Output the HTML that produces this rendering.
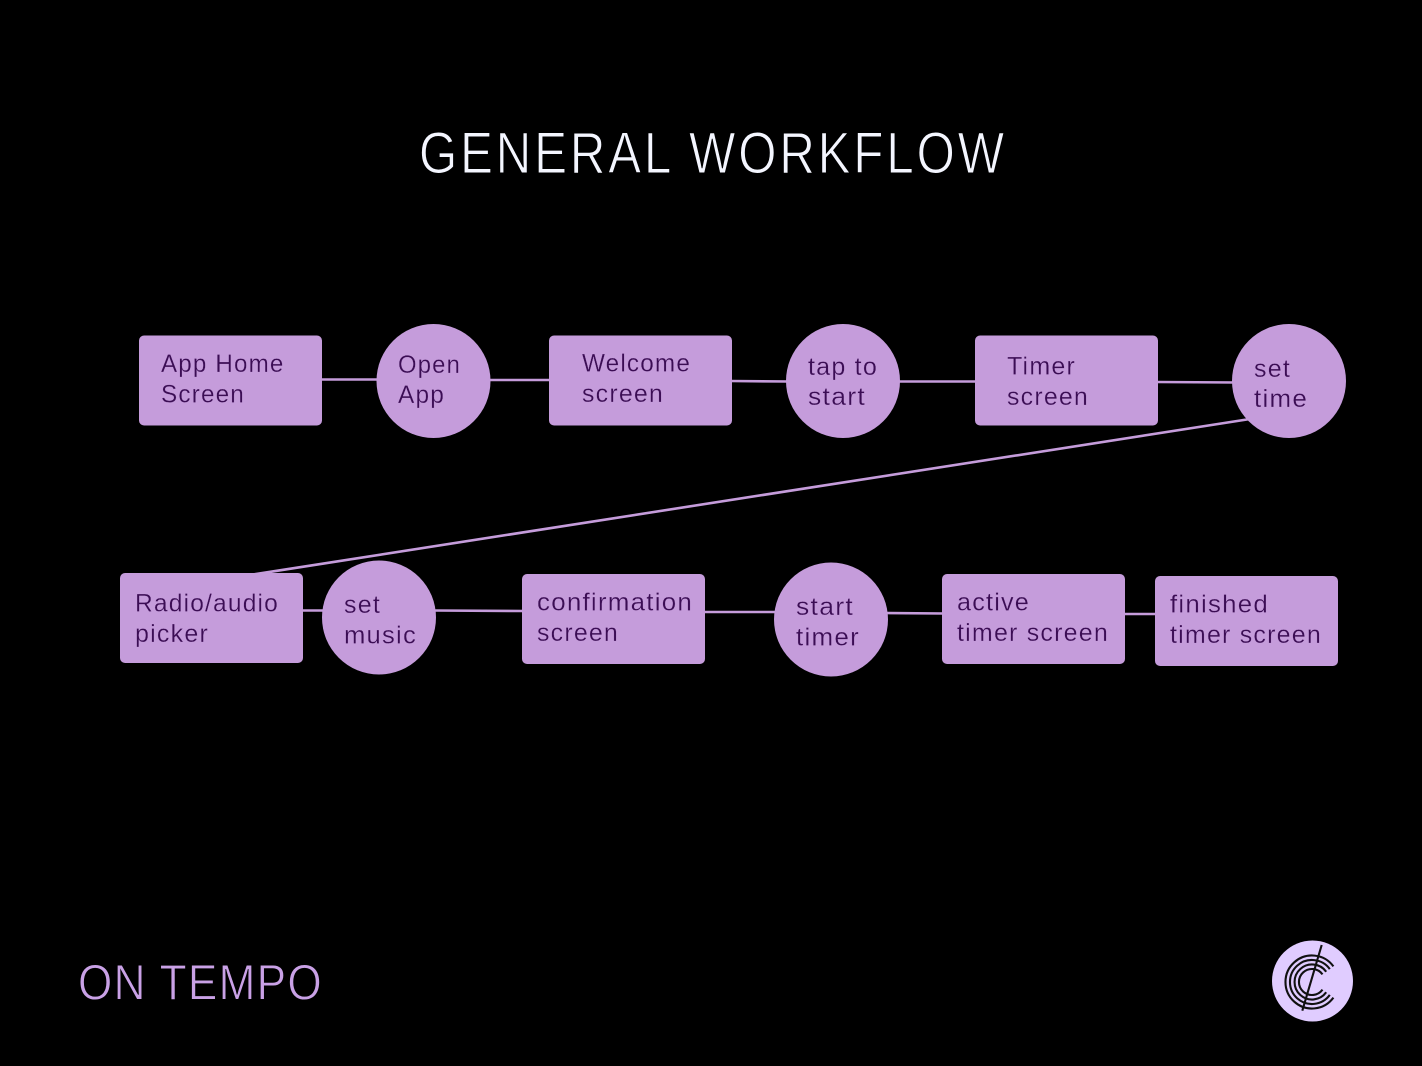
<!DOCTYPE html>
<html><head><meta charset="utf-8"><style>
html,body{margin:0;padding:0;background:#000;width:1422px;height:1066px;overflow:hidden}
svg{display:block}
text{font-family:"Liberation Sans",sans-serif}
.n text{font-size:25px;fill:#3b0d54;letter-spacing:1.2px;stroke:#c59cdb;stroke-width:.25px}
.t{font-size:58.3px;fill:#f4f6ff;letter-spacing:3.5px;stroke:#000;stroke-width:1px}
.o{font-size:50px;fill:#c9a1e6;letter-spacing:1.500px;stroke:#000;stroke-width:.9px}
</style></head><body>
<svg width="1422" height="1066" viewBox="0 0 1422 1066">
<rect width="1422" height="1066" fill="#000"/>
<text class="t" x="419" y="173.200" textLength="588" lengthAdjust="spacingAndGlyphs">GENERAL WORKFLOW</text>
<text class="o" x="78" y="999.500" textLength="245" lengthAdjust="spacingAndGlyphs">ON TEMPO</text>
<g stroke="#c59cdb" stroke-width="2.6" fill="none">
<line x1="320" y1="379.500" x2="380" y2="379.500"/>
<line x1="488" y1="380" x2="552" y2="380"/>
<line x1="730" y1="381" x2="790" y2="381.500"/>
<line x1="898" y1="381.500" x2="977" y2="381.500"/>
<line x1="1156" y1="382" x2="1236" y2="382.500"/>
<line x1="1250" y1="419" x2="250" y2="575"/>
<line x1="300" y1="610.500" x2="326" y2="610.500"/>
<line x1="434" y1="610.500" x2="525" y2="611"/>
<line x1="703" y1="612" x2="778" y2="612"/>
<line x1="886" y1="613" x2="944" y2="613.500"/>
<line x1="1123" y1="614" x2="1157" y2="614"/>
</g>
<g fill="#c59cdb">
<rect x="139" y="335.500" width="183" height="90" rx="5"/>
<circle cx="433.500" cy="381" r="57"/>
<rect x="549" y="335.500" width="183" height="90" rx="5"/>
<circle cx="843" cy="381" r="57"/>
<rect x="975" y="335.500" width="183" height="90" rx="5"/>
<circle cx="1289" cy="381" r="57"/>
<rect x="120" y="573" width="183" height="90" rx="5"/>
<circle cx="379" cy="617.500" r="57"/>
<rect x="522" y="574" width="183" height="90" rx="5"/>
<circle cx="831" cy="619.500" r="57"/>
<rect x="942" y="574" width="183" height="90" rx="5"/>
<rect x="1155" y="576" width="183" height="90" rx="5"/>
</g>
<g class="n">
<text x="161" y="372" textLength="123.500" lengthAdjust="spacingAndGlyphs">App Home</text>
<text x="161" y="402.500" textLength="84" lengthAdjust="spacingAndGlyphs">Screen</text>
<text x="398" y="373" textLength="63" lengthAdjust="spacingAndGlyphs">Open</text>
<text x="398" y="403" textLength="47" lengthAdjust="spacingAndGlyphs">App</text>
<text x="582" y="371.500" textLength="109" lengthAdjust="spacingAndGlyphs">Welcome</text>
<text x="582" y="402" textLength="82" lengthAdjust="spacingAndGlyphs">screen</text>
<text x="808" y="375" textLength="70" lengthAdjust="spacingAndGlyphs">tap to</text>
<text x="808" y="405" textLength="58" lengthAdjust="spacingAndGlyphs">start</text>
<text x="1007" y="374.500" textLength="69" lengthAdjust="spacingAndGlyphs">Timer</text>
<text x="1007" y="405" textLength="82" lengthAdjust="spacingAndGlyphs">screen</text>
<text x="1254" y="377" textLength="37" lengthAdjust="spacingAndGlyphs">set</text>
<text x="1254" y="407" textLength="54" lengthAdjust="spacingAndGlyphs">time</text>
<text x="135" y="611.500" textLength="144" lengthAdjust="spacingAndGlyphs">Radio/audio</text>
<text x="135" y="642" textLength="74" lengthAdjust="spacingAndGlyphs">picker</text>
<text x="344" y="613" textLength="37" lengthAdjust="spacingAndGlyphs">set</text>
<text x="344" y="643.500" textLength="73" lengthAdjust="spacingAndGlyphs">music</text>
<text x="537" y="610.500" textLength="156" lengthAdjust="spacingAndGlyphs">confirmation</text>
<text x="537" y="641" textLength="82" lengthAdjust="spacingAndGlyphs">screen</text>
<text x="796" y="615" textLength="58" lengthAdjust="spacingAndGlyphs">start</text>
<text x="796" y="645.500" textLength="64" lengthAdjust="spacingAndGlyphs">timer</text>
<text x="957" y="610.500" textLength="73" lengthAdjust="spacingAndGlyphs">active</text>
<text x="957" y="641" textLength="152" lengthAdjust="spacingAndGlyphs">timer screen</text>
<text x="1170" y="612.500" textLength="99" lengthAdjust="spacingAndGlyphs">finished</text>
<text x="1170" y="643" textLength="152" lengthAdjust="spacingAndGlyphs">timer screen</text>
</g>
<circle cx="1312.500" cy="981" r="40.500" fill="#e0ccff"/>
<g fill="none" stroke="#111" stroke-width="2.100">
<path d="M1333.400 966.400 A26.500 26.500 0 1 0 1333.400 997.600"/>
<path d="M1329.800 969.100 A22 22 0 1 0 1329.800 994.900"/>
<path d="M1326.200 971.700 A17.500 17.500 0 1 0 1326.200 992.300"/>
<path d="M1322.500 974.400 A13 13 0 1 0 1322.500 989.600"/>
<line x1="1321.700" y1="945" x2="1302.300" y2="1010.700"/>
</g>
</svg>
</body></html>
